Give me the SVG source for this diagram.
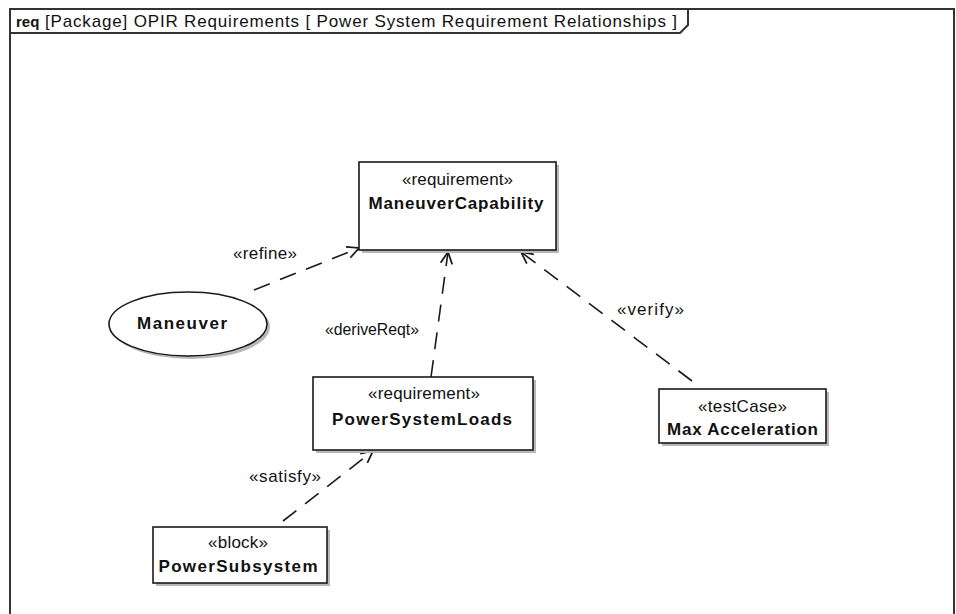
<svg xmlns="http://www.w3.org/2000/svg" width="956" height="614" viewBox="0 0 956 614">
<style>
  text { font-family: "Liberation Sans", Arial, sans-serif; font-size: 17px; fill: #111; }
  .b { font-weight: bold; }
  .node { fill: #fff; stroke: #1a1a1a; stroke-width: 1.6; }
  .shadow { fill: #b8b8b8; }
  .conn { fill: none; stroke: #1a1a1a; stroke-width: 1.6; stroke-dasharray: 17 11; }
  .frame { fill: none; stroke: #333; stroke-width: 2; }
</style>
<defs>
  <marker id="open" viewBox="0 0 12 12" refX="11" refY="6" markerWidth="14" markerHeight="14" markerUnits="userSpaceOnUse" orient="auto">
    <path d="M1,1 L11,6 L1,11" fill="none" stroke="#1a1a1a" stroke-width="1.5"/>
  </marker>
</defs>
<rect x="0" y="0" width="956" height="614" fill="#fff"/>
<g id="frame">
  <rect x="10" y="9" width="944" height="620" class="frame"/>
  <path d="M10,33 L680,33 L688,25 L688,9" class="frame"/>
  <text x="16" y="27" class="b" style="font-size:15px">req</text>
  <text x="45" y="27" textLength="632" lengthAdjust="spacing">[Package] OPIR Requirements [ Power System Requirement Relationships ]</text>
</g>
<g id="connectors">
  <g id="refine">
    <line x1="254" y1="290" x2="359" y2="248" class="conn" marker-end="url(#open)"/>
    <text x="297" y="259" text-anchor="end" textLength="64" lengthAdjust="spacing">«refine»</text>
  </g>
  <g id="deriveReqt">
    <line x1="431" y1="377" x2="448" y2="252" class="conn" marker-end="url(#open)"/>
    <text x="325" y="335" textLength="94" lengthAdjust="spacingAndGlyphs">«deriveReqt»</text>
  </g>
  <g id="verify">
    <line x1="692" y1="381" x2="521" y2="252" class="conn" marker-end="url(#open)"/>
    <text x="617" y="315" textLength="67" lengthAdjust="spacing">«verify»</text>
  </g>
  <g id="satisfy">
    <line x1="283" y1="521" x2="373" y2="451" class="conn" marker-end="url(#open)"/>
    <text x="249" y="482" textLength="72" lengthAdjust="spacing">«satisfy»</text>
  </g>
</g>
<g id="ManeuverCapability">
  <rect x="362" y="165" width="197" height="88" class="shadow"/>
  <rect x="359" y="162" width="197" height="88" class="node"/>
  <text x="457.5" y="185" text-anchor="middle" textLength="111" lengthAdjust="spacing">«requirement»</text>
  <text x="456" y="209" text-anchor="middle" class="b" textLength="175" lengthAdjust="spacing">ManeuverCapability</text>
</g>
<g id="Maneuver">
  <ellipse cx="191" cy="327" rx="79" ry="32" class="shadow"/>
  <ellipse cx="188" cy="324" rx="79" ry="32" class="node"/>
  <text x="182" y="329" text-anchor="middle" class="b" textLength="90" lengthAdjust="spacing">Maneuver</text>
</g>
<g id="PowerSystemLoads">
  <rect x="316" y="380" width="220" height="73" class="shadow"/>
  <rect x="313" y="377" width="220" height="73" class="node"/>
  <text x="424" y="399" text-anchor="middle" textLength="112" lengthAdjust="spacing">«requirement»</text>
  <text x="422" y="425" text-anchor="middle" class="b" textLength="180" lengthAdjust="spacing">PowerSystemLoads</text>
</g>
<g id="MaxAcceleration">
  <rect x="662" y="392" width="167" height="54" class="shadow"/>
  <rect x="659" y="389" width="167" height="54" class="node"/>
  <text x="742.5" y="412" text-anchor="middle" textLength="89" lengthAdjust="spacing">«testCase»</text>
  <text x="742.5" y="435" text-anchor="middle" class="b" textLength="151" lengthAdjust="spacing">Max Acceleration</text>
</g>
<g id="PowerSubsystem">
  <rect x="156" y="530" width="174" height="56" class="shadow"/>
  <rect x="153" y="527" width="174" height="56" class="node"/>
  <text x="238" y="548" text-anchor="middle" textLength="60" lengthAdjust="spacing">«block»</text>
  <text x="238" y="572" text-anchor="middle" class="b" textLength="159" lengthAdjust="spacing">PowerSubsystem</text>
</g>
</svg>
